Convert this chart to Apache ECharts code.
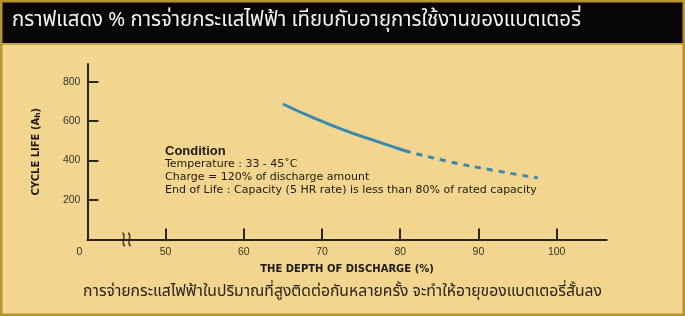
<!DOCTYPE html>
<html><head><meta charset="utf-8">
<script src="https://cdn.jsdelivr.net/npm/echarts@6/dist/echarts.min.js"></script>
<style>html,body{margin:0;padding:0;background:#F2D58E;}#c{width:685px;height:316px;}</style>
</head><body><div id="c"></div>
<script>
const titleText = 'กราฟแสดง % การจ่ายกระแสไฟฟ้า เทียบกับอายุการใช้งานของแบตเตอรี่';
const footText = 'การจ่ายกระแสไฟฟ้าในปริมาณที่สูงติดต่อกันหลายครั้ง จะทำให้อายุของแบตเตอรี่สั้นลง';
const conditionLines = [
  'Temperature : 33 - 45˚C',
  'Charge = 120% of discharge amount',
  'End of Life : Capacity (5 HR rate) is less than 80% of rated capacity'
];
const xTickValues = [50, 60, 70, 80, 90, 100];
const xLabelValues = [40, 50, 60, 70, 80, 90, 100];
const yTickValues = [200, 400, 600, 800];
const solidX = [65, 69, 73, 77, 80.6];
const solidY = [687, 615, 552, 497, 450];
const dashX = [80.6, 86, 92, 97.6];
const dashY = [450, 397, 350, 312];
const breakPoint = [[45, 0]];

const chart = echarts.init(document.getElementById('c'));
const lineColor = '#3889b2';
const axisCol = '#2b2718';
chart.setOption({
  animation: false,
  backgroundColor: '#F2D58E',
  graphic: [
    {type: 'rect', shape: {x: 1, y: 1, width: 683, height: 314}, style: {fill: 'none', stroke: '#b8942e', lineWidth: 3}, z: 10},
    {type: 'rect', shape: {x: 2, y: 2, width: 681, height: 42}, style: {fill: '#070605'}},
    {type: 'rect', shape: {x: 2, y: 43, width: 681, height: 2}, style: {fill: '#c9a640'}},
    {type: 'text', left: 12, top: 12, style: {text: titleText, fill: '#f4f4f4', font: '20.4px "Noto Sans Thai", "Noto Sans", sans-serif'}},
    {type: 'text', left: 'center', top: 285, style: {text: footText, fill: '#2a2418', font: '15.7px "Noto Sans Thai", "Noto Sans", sans-serif'}},
    {type: 'text', left: 165, top: 145, style: {text: 'Condition', fill: '#1e1a10', font: 'bold 13px "Liberation Sans", Arial, sans-serif'}},
    {type: 'text', left: 165, top: 158, style: {text: conditionLines.join('\n'), fill: '#1e1a10', lineHeight: 13, font: '11px "DejaVu Sans", sans-serif'}}
  ],
  grid: {left: 87.4, right: 78.3, top: 64, bottom: 76.6},
  xAxis: {
    type: 'value', min: 40, max: 106.4, interval: 10,
    name: 'THE DEPTH OF DISCHARGE (%)', nameLocation: 'middle', nameGap: 25,
    nameTextStyle: {fontFamily: 'DejaVu Sans', fontWeight: 'bold', fontSize: 10, color: '#1e1a10'},
    axisLine: {show: true, lineStyle: {color: axisCol, width: 2}},
    axisTick: {show: true, inside: true, length: 11, customValues: xTickValues, lineStyle: {color: axisCol, width: 2}},
    axisLabel: {customValues: xLabelValues, margin: 7, color: '#3a3428', fontFamily: 'Liberation Sans', fontSize: 10.5,
      formatter: v => v === 40 ? '{z|0}' : String(v),
      rich: {z: {padding: [0, 16, 0, 0], fontFamily: 'Liberation Sans', fontSize: 10.5, color: '#3a3428'}}},
    splitLine: {show: false}
  },
  yAxis: {
    type: 'value', min: 0, max: 890, interval: 200,
    name: 'CYCLE LIFE (A{s|h})', nameLocation: 'middle', nameGap: 45,
    nameTextStyle: {fontFamily: 'DejaVu Sans', fontWeight: 'bold', fontSize: 10, color: '#1e1a10',
      rich: {s: {fontSize: 7.5, fontWeight: 'bold', fontFamily: 'DejaVu Sans', color: '#1e1a10', verticalAlign: 'bottom', padding: [3, 0, 0, 0]}}},
    axisLine: {show: true, lineStyle: {color: axisCol, width: 2}},
    axisTick: {show: true, inside: true, length: 11, customValues: yTickValues, lineStyle: {color: axisCol, width: 2}},
    axisLabel: {customValues: yTickValues, margin: 7, color: '#3a3428', fontFamily: 'Liberation Sans', fontSize: 10.5},
    splitLine: {show: false}
  },
  series: [
    {type: 'line', smooth: true, symbol: 'none', data: solidX.map((x, i) => [x, solidY[i]]),
      lineStyle: {color: lineColor, width: 3}},
    {type: 'line', smooth: true, symbol: 'none', data: dashX.map((x, i) => [x, dashY[i]]),
      lineStyle: {color: lineColor, width: 3, type: [6, 6]}},
    {type: 'scatter', data: breakPoint, symbol: 'path://M0,0 C4,3 -2,7 2,10 M5,0 C9,3 3,7 7,10', symbolSize: [8, 13],
      itemStyle: {color: 'none', borderColor: axisCol, borderWidth: 2.2}, z: 5}
  ]
});
</script></body></html>
